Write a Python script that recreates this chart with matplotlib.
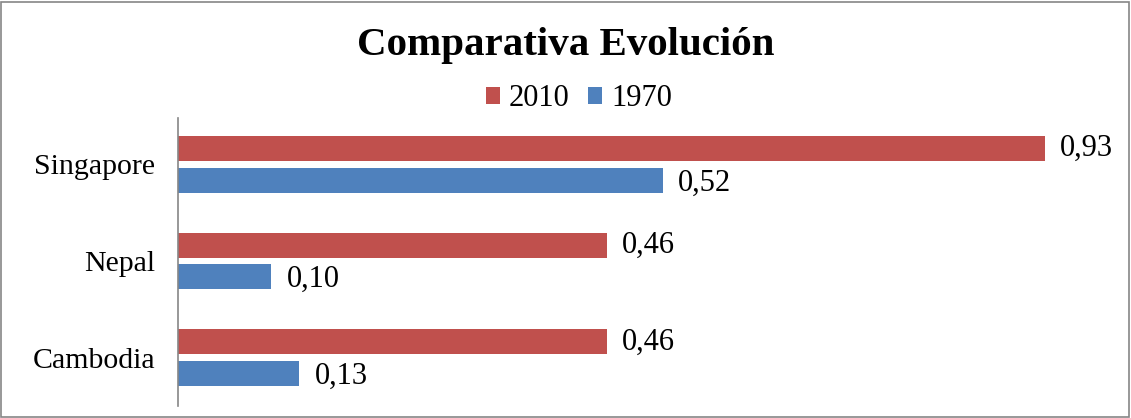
import matplotlib
matplotlib.use("Agg")
import matplotlib.pyplot as plt
from matplotlib.patches import Rectangle
import numpy as np

categories = ["Singapore", "Nepal", "Cambodia"]
values_2010 = [0.93, 0.46, 0.46]
values_1970 = [0.52, 0.10, 0.13]
labels_2010 = ["0,93", "0,46", "0,46"]
labels_1970 = ["0,52", "0,10", "0,13"]

RED = "#C0504D"
BLUE = "#4F81BD"
plt.rcParams['font.family'] = ['Liberation Serif', 'DejaVu Serif']

W, H = 1131, 418
fig = plt.figure(figsize=(W/100, H/100), dpi=100)
left, right, top, bottom = 178, 1113.5, 118, 406
ax = fig.add_axes([left/W, 1-bottom/H, (right-left)/W, (bottom-top)/H])

y = np.arange(len(categories))[::-1].astype(float)
off = 0.163
h = 0.26
ax.barh(y + off, values_2010, height=h, color=RED, label="2010")
ax.barh(y - off, values_1970, height=h, color=BLUE, label="1970")
for yi, v, t in zip(y, values_2010, labels_2010):
    ax.annotate(t, (v, yi + off), xytext=(11, 0), textcoords="offset points",
                va="center", ha="left", fontsize=22)
for yi, v, t in zip(y, values_1970, labels_1970):
    ax.annotate(t, (v, yi - off), xytext=(11, -2), textcoords="offset points",
                va="center", ha="left", fontsize=22)

ax.set_xlim(0, 1.004)
ax.set_ylim(-0.5, 2.48)
ax.set_yticks(y)
ax.set_yticklabels(categories, fontsize=21.5)
ax.tick_params(axis='y', length=0, pad=16.5)
ax.set_xticks([])
for s in ["top", "right", "bottom"]:
    ax.spines[s].set_visible(False)
ax.spines["left"].set_color("#868686")
ax.spines["left"].set_linewidth(1.2)

fig.text(0.5, 1 - 45/H, "Comparativa Evolución", ha="center", va="center",
         fontsize=29.5, fontweight="bold")
leg = fig.legend(loc="center", bbox_to_anchor=(579/W, 1 - 99/H), ncol=2,
                 frameon=False, fontsize=22, handlelength=0.45, handleheight=0.45,
                 handletextpad=0.3, columnspacing=0.6)

fig.patches.append(Rectangle((1/W, 1/H), 1 - 3/W, 1 - 3/H, transform=fig.transFigure,
                             fill=False, edgecolor="#868686", linewidth=1.2))
fig.savefig("out.png", dpi=100)
